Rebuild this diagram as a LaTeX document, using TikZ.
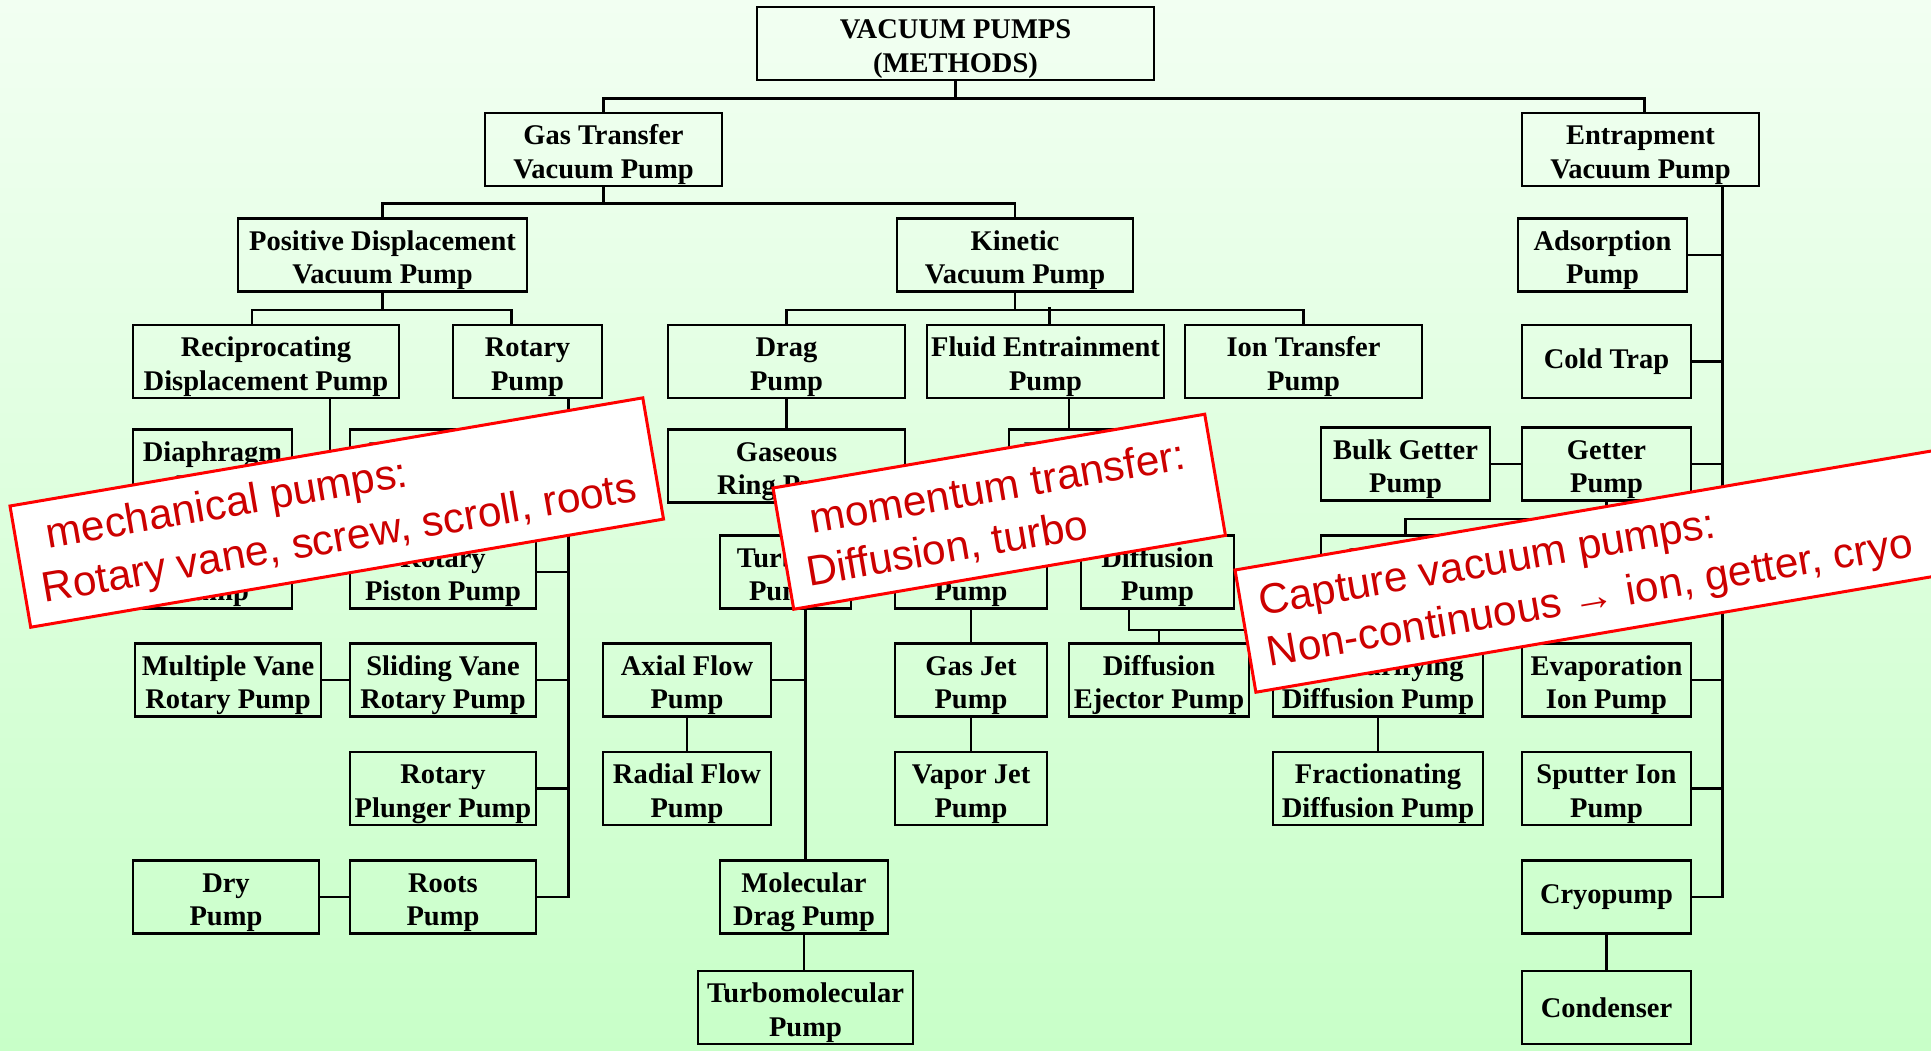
\documentclass[tikz,border=0pt]{standalone}
\usepackage{fontspec}
\setmainfont{Liberation Serif}
\newfontfamily\notefont{Liberation Sans}
\usetikzlibrary{calc}

\definecolor{bgtop}{RGB}{242,255,242}
\definecolor{bgbottom}{RGB}{200,255,200}
\definecolor{notered}{RGB}{204,0,0}

\tikzset{
	pumpbox/.style={draw, line width=2.5pt, align=center, inner sep=0pt, minimum height=73pt,
		font=\fontsize{28.5}{33.5}\selectfont\bfseries},
	pump/.style={pumpbox, execute at begin node={\rule{0pt}{64pt}}},
	link/.style={line width=2.5pt},
	notebox/.style={draw=red, fill=white, line width=3pt},
	notetext/.style={anchor=base west, inner sep=0pt, text=notered,
		font=\notefont\fontsize{42.5}{53}\selectfont}
}

\begin{document}
\begin{tikzpicture}[x=1pt,y=-1pt]

		\useasboundingbox (0,0) rectangle (1931,1050);
		\clip (0,0) rectangle (1931,1050);
		\shade[top color=bgtop, bottom color=bgbottom] (0,0) rectangle (1931,1050);

		% top levels
		\node[pump, minimum width=397pt] (root) at (955.5,43.5) {VACUUM PUMPS\\(METHODS)};
		\node[pump, minimum width=237pt] (gas) at (603.5,149.5) {Gas Transfer\\Vacuum Pump};
		\node[pump, minimum width=237pt] (entr) at (1640.5,149.5) {Entrapment\\Vacuum Pump};
		\node[pump, minimum width=289pt] (posdisp) at (382.5,255) {Positive Displacement\\Vacuum Pump};
		\node[pump, minimum width=236pt] (kinetic) at (1015,255) {Kinetic\\Vacuum Pump};
		\node[pump, minimum width=169pt] (adsorp) at (1602.5,255) {Adsorption\\Pump};

		% row 3
		\node[pump, minimum width=266pt] (recip) at (266,361.5) {Reciprocating\\Displacement Pump};
		\node[pump, minimum width=149pt] (rotary) at (527.5,361.5) {Rotary\\Pump};
		\node[pump, minimum width=237pt] (drag) at (786.5,361.5) {Drag\\Pump};
		\node[pump, minimum width=237pt] (fluid) at (1045.5,361.5) {Fluid Entrainment\\Pump};
		\node[pump, minimum width=237pt] (iontr) at (1303.5,361.5) {Ion Transfer\\Pump};
		\node[pumpbox, minimum width=169pt] (cold) at (1606.5,361.5) {Cold Trap};

		% row 4
		\node[pump, minimum width=159pt] (diaph) at (212.5,466) {Diaphragm\\Pump};
		\node[pump, minimum width=186pt] (liqring) at (443,466) {Liquid Ring\\Pump};
		\node[pump, minimum width=237pt] (gasring) at (786.5,466) {Gaseous\\Ring Pump};
		\node[pump, minimum width=120pt] (ejector) at (1069,466) {Ejector\\Pump};
		\node[pump, minimum width=169pt] (bulk) at (1405.5,464) {Bulk Getter\\Pump};
		\node[pump, minimum width=169pt] (getter) at (1606.5,464) {Getter\\Pump};

		% row 5
		\node[pump, minimum width=159pt] (piston) at (212.5,572) {Piston\\Pump};
		\node[pump, minimum width=186pt] (rotpiston) at (443,572) {Rotary\\Piston Pump};
		\node[pump, minimum width=131pt] (turbine) at (785.5,572) {Turbine\\Pump};
		\node[pump, minimum width=152pt] (liqjet) at (971,572) {Liquid Jet\\Pump};
		\node[pump, minimum width=153pt] (diffusion) at (1157.5,572) {Diffusion\\Pump};
		\node[pump, minimum width=169pt] (getterion) at (1405.5,572) {Getter Ion\\Pump};

		% row 6
		\node[pump, minimum width=186pt] (multvane) at (228,680) {Multiple Vane\\Rotary Pump};
		\node[pump, minimum width=186pt] (slidvane) at (443,680) {Sliding Vane\\Rotary Pump};
		\node[pump, minimum width=168pt] (axial) at (687,680) {Axial Flow\\Pump};
		\node[pump, minimum width=152pt] (gasjet) at (971,680) {Gas Jet\\Pump};
		\node[pump, minimum width=180pt] (diffej) at (1159,680) {Diffusion\\Ejector Pump};
		\node[pump, minimum width=210pt] (selfpur) at (1378,680) {Self-Purifying\\Diffusion Pump};
		\node[pump, minimum width=169pt] (evapion) at (1606.5,680) {Evaporation\\Ion Pump};

		% row 7
		\node[pump, minimum width=186pt] (plunger) at (443,788.5) {Rotary\\Plunger Pump};
		\node[pump, minimum width=168pt] (radial) at (687,788.5) {Radial Flow\\Pump};
		\node[pump, minimum width=152pt] (vaporjet) at (971,788.5) {Vapor Jet\\Pump};
		\node[pump, minimum width=210pt] (fraction) at (1378,788.5) {Fractionating\\Diffusion Pump};
		\node[pump, minimum width=169pt] (sputter) at (1606.5,788.5) {Sputter Ion\\Pump};

		% rows 8 and 9
		\node[pump, minimum width=186pt] (dry) at (226,897) {Dry\\Pump};
		\node[pump, minimum width=186pt] (roots) at (443,897) {Roots\\Pump};
		\node[pump, minimum width=168pt] (moldrag) at (804,897) {Molecular\\Drag Pump};
		\node[pumpbox, minimum width=169pt] (cryo) at (1606.5,897) {Cryopump};
		\node[pump, minimum width=215pt] (turbomol) at (805.5,1007.5) {Turbomolecular\\Pump};
		\node[pumpbox, minimum width=169pt] (condenser) at (1606.5,1007.5) {Condenser};

		% tree lines
		\draw[link] (root.south) -- ++(0,17) coordinate (topbus);
		\draw[link] (gas.north) |- (topbus) -| ($(entr.north)+(4,0)$);
		\draw[link] (gas.south) -- ++(0,16) coordinate (gasbus);
		\draw[link] (posdisp.north) |- (gasbus) -| (kinetic.north);
		\draw[link] (posdisp.south) -- ++(0,17) coordinate (pdbus);
		\draw[link] ($(recip.north)+(-14,0)$) |- (pdbus) -| ($(rotary.north)+(-16,0)$);
		\draw[link] (kinetic.south) -- ++(0,17) coordinate (kinbus);
		\draw[link] (drag.north) |- (kinbus) -| (iontr.north);
		\draw[link] ($(fluid.north)+(4,0)$) -- ++(0,-17);

		\draw[link] ($(recip.south)+(64,0)$) coordinate (recline) |- (piston.east);
		\draw[link] (diaph.east) -- (diaph.east -| recline);
		\draw[link] ($(rotary.south)+(41,0)$) coordinate (rotline) |- (roots.east);
		\foreach \n in {liqring, rotpiston, slidvane, plunger}
			\draw[link] (\n.east) -- (\n.east -| rotline);
		\draw[link] (multvane.east) -- (slidvane.west);
		\draw[link] (dry.east) -- (roots.west);

		\draw[link] (drag.south) -- (drag.south |- gasring.north);
		\draw[link] (gasring.south) -- (gasring.south |- turbine.north);
		\draw[link] ($(turbine.south)+(20,0)$) coordinate (turbline) -- (turbline |- moldrag.north);
		\draw[link] (axial.east) -- (axial.east -| turbline);
		\draw[link] (axial.south) -- (radial.north);
		\draw[link] (moldrag.south) -- (moldrag.south |- turbomol.north);

		\draw[link] (ejector.north) -- (ejector.north |- fluid.south);
		\draw[link] (ejector.south) -- ++(0,17) coordinate (ejbus);
		\draw[link] (liqjet.north) |- (ejbus) -| (diffusion.north);
		\draw[link] (liqjet.south) -- (gasjet.north);
		\draw[link] (gasjet.south) -- (vaporjet.north);
		\draw[link] ($(diffusion.south)+(-28.5,0)$) -- ++(0,20) coordinate (diffbus) -| (selfpur.north);
		\draw[link] (diffej.north) -- (diffej.north |- diffbus);
		\draw[link] (selfpur.south) -- (fraction.north);

		\draw[link] ($(entr.south)+(82,0)$) coordinate (entline) |- (cryo.east);
		\foreach \n in {adsorp, cold, getter, evapion, sputter}
			\draw[link] (\n.east) -- (\n.east -| entline);
		\draw[link] (bulk.east) -- (getter.west);
		\draw[link] (getter.south) -- ++(0,17) -| (getterion.north);
		\draw[link] (cryo.south) -- (condenser.north);

		% notes
		\begin{scope}[shift={(10,506)}, rotate=9.7]
			\draw[notebox] (0,0) rectangle (642,123);
			\node[notetext, transform shape] (mech1) at (31,48) {mechanical pumps:};
			\node[notetext, transform shape] (mech2) at (18,101) {Rotary vane, screw, scroll, roots};
		\end{scope}
		\begin{scope}[shift={(773,488)}, rotate=9.7]
			\draw[notebox] (0,0) rectangle (438,123);
			\node[notetext, transform shape] (mom1) at (31,51) {momentum transfer:};
			\node[notetext, transform shape] (mom2) at (19,103) {Diffusion, turbo};
		\end{scope}
		\begin{scope}[shift={(1235,570)}, rotate=9.7]
			\draw[notebox] (0,0) rectangle (760,124);
			\node[notetext, transform shape] (cap1) at (18,49) {Capture vacuum pumps:};
			\node[notetext, transform shape] (cap2) at (18,101) {Non-continuous → ion, getter, cryo};
		\end{scope}

	\end{tikzpicture}
\end{document}
